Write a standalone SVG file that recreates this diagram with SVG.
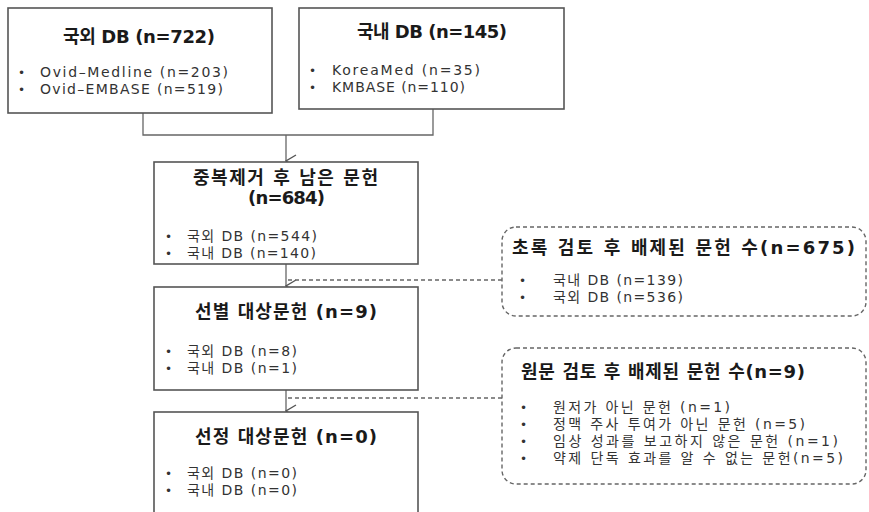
<svg xmlns="http://www.w3.org/2000/svg" width="869" height="512" viewBox="0 0 869 512">
<defs>
<style>
.box{fill:#fff;stroke:#555;stroke-width:1.6}
.dbox{fill:#fff;stroke:#666;stroke-width:1.4;stroke-dasharray:4 3}
.ln{fill:none;stroke:#666;stroke-width:1.3}
.dln{fill:none;stroke:#666;stroke-width:1.3;stroke-dasharray:4 3}
.t{font-family:"DejaVu Sans","Noto Sans CJK KR",sans-serif;font-weight:bold;font-size:18px;fill:#1a1a1a}
.b{font-family:"DejaVu Sans","Noto Sans CJK KR",sans-serif;font-size:14px;fill:#333}
.d{font-family:"DejaVu Sans",sans-serif;font-size:12px;fill:#333}
</style>
<marker id="arr" markerWidth="14" markerHeight="12" viewBox="0 0 14 12" refX="7" refY="11" orient="auto-start-reverse" markerUnits="userSpaceOnUse">
<path d="M1,1 L7,11 L13,1" fill="none" stroke="#555" stroke-width="1.4"/>
</marker>
</defs>
<rect width="869" height="512" fill="#fff"/>

<g id="connectors">
<path class="ln" d="M143,113 V135 H433 V109"/>
<path class="ln" d="M286,135 V161" marker-end="url(#arr)"/>
<path class="ln" d="M286,264 V286" marker-end="url(#arr)"/>
<path class="ln" d="M286,390 V411" marker-end="url(#arr)"/>
<path class="dln" d="M288,280 H502"/>
<path class="dln" d="M288,398 H502"/>
</g>

<g id="foreign-db">
<rect class="box" x="8" y="8" width="264" height="105"/>
<text class="t" x="63" y="43" textLength="152" lengthAdjust="spacing">국외 DB (n=722)</text>
<text class="d" x="18" y="77">•</text>
<text class="b" x="40" y="77" textLength="188" lengthAdjust="spacing">Ovid–Medline (n=203)</text>
<text class="d" x="18" y="94">•</text>
<text class="b" x="40" y="94" textLength="183" lengthAdjust="spacing">Ovid–EMBASE (n=519)</text>
</g>

<g id="domestic-db">
<rect class="box" x="299" y="8" width="265" height="101"/>
<text class="t" x="357" y="38" textLength="150" lengthAdjust="spacing">국내 DB (n=145)</text>
<text class="d" x="309" y="75">•</text>
<text class="b" x="332" y="75" textLength="148" lengthAdjust="spacing">KoreaMed (n=35)</text>
<text class="d" x="309" y="92">•</text>
<text class="b" x="332" y="92" textLength="133" lengthAdjust="spacing">KMBASE (n=110)</text>
</g>

<g id="dedup">
<rect class="box" x="154" y="162" width="264" height="102"/>
<text class="t" x="193" y="184" textLength="185" lengthAdjust="spacing">중복제거 후 남은 문헌</text>
<text class="t" x="248" y="204" textLength="77" lengthAdjust="spacing">(n=684)</text>
<text class="d" x="165" y="241">•</text>
<text class="b" x="187" y="241" textLength="130" lengthAdjust="spacing">국외 DB (n=544)</text>
<text class="d" x="165" y="258">•</text>
<text class="b" x="187" y="258" textLength="129" lengthAdjust="spacing">국내 DB (n=140)</text>
</g>

<g id="screening">
<rect class="box" x="154" y="287" width="264" height="103"/>
<text class="t" x="195" y="318" textLength="182" lengthAdjust="spacing">선별 대상문헌 (n=9)</text>
<text class="d" x="165" y="356">•</text>
<text class="b" x="187" y="356" textLength="110" lengthAdjust="spacing">국외 DB (n=8)</text>
<text class="d" x="165" y="373">•</text>
<text class="b" x="187" y="373" textLength="110" lengthAdjust="spacing">국내 DB (n=1)</text>
</g>

<g id="selected">
<rect class="box" x="154" y="412" width="264" height="110"/>
<text class="t" x="195" y="443" textLength="182" lengthAdjust="spacing">선정 대상문헌 (n=0)</text>
<text class="d" x="165" y="478">•</text>
<text class="b" x="187" y="478" textLength="110" lengthAdjust="spacing">국외 DB (n=0)</text>
<text class="d" x="165" y="495">•</text>
<text class="b" x="187" y="495" textLength="110" lengthAdjust="spacing">국내 DB (n=0)</text>
</g>

<g id="abstract-excluded">
<rect class="dbox" x="502" y="227" width="364" height="89" rx="14"/>
<text class="t" x="512" y="254" textLength="343" lengthAdjust="spacing">초록 검토 후 배제된  문헌 수(n=675)</text>
<text class="d" x="519" y="285">•</text>
<text class="b" x="553" y="285" textLength="130" lengthAdjust="spacing">국내 DB (n=139)</text>
<text class="d" x="519" y="302">•</text>
<text class="b" x="553" y="302" textLength="130" lengthAdjust="spacing">국외 DB (n=536)</text>
</g>

<g id="fulltext-excluded">
<rect class="dbox" x="502" y="348" width="364" height="136" rx="14"/>
<text class="t" x="521" y="378" textLength="284" lengthAdjust="spacing">원문 검토 후 배제된  문헌 수(n=9)</text>
<text class="d" x="520" y="412">•</text>
<text class="b" x="553" y="412" textLength="177" lengthAdjust="spacing">원저가 아닌 문헌 (n=1)</text>
<text class="d" x="520" y="429">•</text>
<text class="b" x="553" y="429" textLength="252" lengthAdjust="spacing">정맥 주사 투여가 아닌 문헌 (n=5)</text>
<text class="d" x="520" y="446">•</text>
<text class="b" x="553" y="446" textLength="285" lengthAdjust="spacing">임상 성과를 보고하지 않은 문헌 (n=1)</text>
<text class="d" x="520" y="463">•</text>
<text class="b" x="553" y="463" textLength="290" lengthAdjust="spacing">약제 단독 효과를 알 수 없는 문헌(n=5)</text>
</g>
</svg>
